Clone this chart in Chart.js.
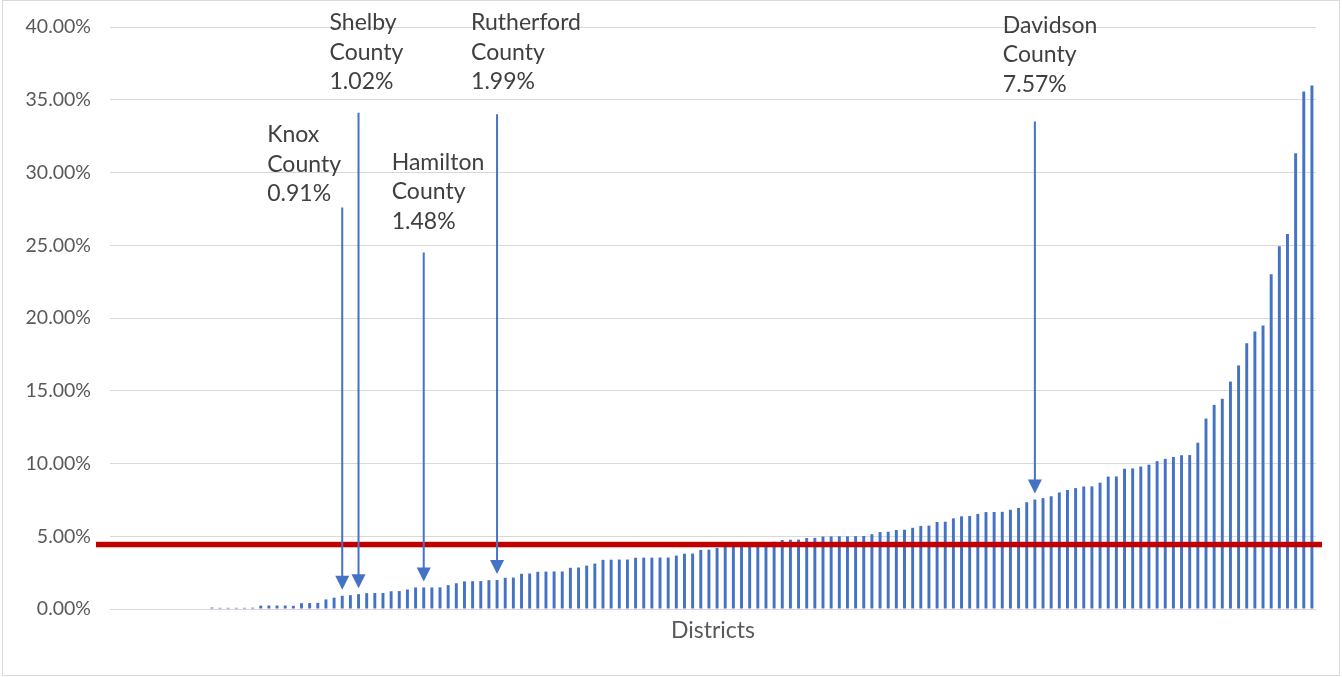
<!DOCTYPE html>
<html>
<head>
<meta charset="utf-8">
<script src="https://cdn.jsdelivr.net/npm/chart.js@4.4.1/dist/chart.umd.min.js"></script>
<style>
  html, body { margin: 0; padding: 0; background: #fff; }
  canvas { display: block; }
</style>
</head>
<body>
<canvas id="myChart" width="1342" height="677"></canvas>
<script>
// districts with no share (drawn as empty slots on the left)
const zeroDistricts = [0, 0, 0, 0, 0, 0, 0, 0, 0, 0, 0, 0];

// share per district in %, sorted ascending
const shares = [
    0.10, 0.08, 0.08, 0.08, 0.08, 0.09,
    0.23, 0.24, 0.24, 0.24, 0.22,
    0.40, 0.41, 0.42, 0.66, 0.78, 0.91, 0.95, 1.02,
    1.09, 1.10, 1.10, 1.22, 1.23, 1.34,
    1.48, 1.48, 1.48, 1.49, 1.64, 1.77,
    1.90, 1.91, 1.92, 1.98, 1.99, 2.14, 2.16,
    2.42, 2.44, 2.56, 2.57, 2.58, 2.58, 2.83, 2.85, 2.98, 3.12,
    3.38, 3.39, 3.40, 3.40, 3.52, 3.53, 3.53, 3.54, 3.54,
    3.67, 3.80, 3.81, 4.06, 4.08,
    4.20, 4.26, 4.30, 4.36, 4.42, 4.48, 4.55, 4.62,
    4.74, 4.76, 4.77, 4.88, 4.89,
    4.98, 4.99, 5.00, 5.00, 5.01, 5.02, 5.14, 5.29, 5.31, 5.43, 5.45,
    5.58, 5.71, 5.73, 5.98, 6.00, 6.23, 6.37, 6.39, 6.53,
    6.66, 6.67, 6.68, 6.82, 6.95, 7.34, 7.52, 7.62, 7.75,
    8.01, 8.18, 8.31, 8.42, 8.43, 8.68, 9.10, 9.11, 9.64, 9.66,
    9.79, 9.92, 10.16, 10.32, 10.45, 10.57, 10.58, 11.43,
    13.09, 14.03, 14.45, 15.63, 16.74, 18.26, 19.07, 19.49,
    23.01, 24.93, 25.77, 31.33, 35.56, 35.98
];

const values = zeroDistricts.concat(shares);
const districts = values.map((_, i) => 'District ' + (i + 1));

// statewide benchmark (red line), in %
const benchmark = 4.43;

// y axis
const yMin = 0;
const yMax = 40;
const yStep = 5;

// labelled counties: name, share label, district slot
const calloutNames = ['Knox', 'Shelby', 'Hamilton', 'Rutherford', 'Davidson'];
const calloutShares = ['0.91%', '1.02%', '1.48%', '1.99%', '7.57%'];
const calloutIndex = [28, 30, 38, 47, 113];

// where each callout text starts and its arrow starts (in axis %), text offset in px
const calloutLayout = [
    { textAt: 32.6, arrowFrom: 27.6, dx: -75 },
    { textAt: 40.3, arrowFrom: 34.1, dx: -29 },
    { textAt: 30.7, arrowFrom: 24.5, dx: -32 },
    { textAt: 40.3, arrowFrom: 34.0, dx: -26 },
    { textAt: 40.1, arrowFrom: 33.5, dx: -32 }
];

const blue = '#4472C4';
const fontFamily = 'Lato, "Noto Sans", sans-serif';

const frame = {
    id: 'frame',
    beforeDraw(chart) {
        const ctx = chart.ctx;
        ctx.save();
        ctx.fillStyle = '#fff';
        ctx.fillRect(0, 0, chart.width, chart.height);
        ctx.strokeStyle = '#d9d9d9';
        ctx.lineWidth = 1;
        ctx.strokeRect(2.5, 0.5, chart.width - 5, chart.height - 2);
        ctx.restore();
    }
};

const benchmarkLine = {
    id: 'benchmarkLine',
    afterDatasetsDraw(chart) {
        const ctx = chart.ctx;
        const y = chart.scales.y.getPixelForValue(benchmark);
        const area = chart.chartArea;
        ctx.save();
        ctx.fillStyle = '#C00000';
        ctx.fillRect(area.left - 14, y - 2.75, area.right - area.left + 20, 5.5);
        ctx.restore();
    }
};

const callouts = {
    id: 'callouts',
    afterDraw(chart) {
        const ctx = chart.ctx;
        const xs = chart.scales.x;
        const ys = chart.scales.y;
        ctx.save();
        for (let i = 0; i < calloutNames.length; i++) {
            const lay = calloutLayout[i];
            const x = xs.getPixelForValue(calloutIndex[i]);
            const barTop = ys.getPixelForValue(values[calloutIndex[i]]);
            const tip = barTop - 6;
            const from = ys.getPixelForValue(lay.arrowFrom);

            ctx.strokeStyle = blue;
            ctx.lineWidth = 2;
            ctx.beginPath();
            ctx.moveTo(x, from);
            ctx.lineTo(x, tip - 12);
            ctx.stroke();
            ctx.fillStyle = blue;
            ctx.beginPath();
            ctx.moveTo(x - 7, tip - 14);
            ctx.lineTo(x + 7, tip - 14);
            ctx.lineTo(x, tip);
            ctx.closePath();
            ctx.fill();

            ctx.fillStyle = '#404040';
            ctx.font = '23px ' + fontFamily;
            ctx.textBaseline = 'middle';
            ctx.textAlign = 'left';
            const ty = ys.getPixelForValue(lay.textAt);
            const lines = [calloutNames[i], 'County', calloutShares[i]];
            lines.forEach((t, k) => ctx.fillText(t, x + lay.dx, ty + k * 29.5));
        }
        ctx.restore();
    }
};

window.onload = () => {
    const ctx = document.getElementById('myChart');
    window.chart = new Chart(ctx, {
        type: 'bar',
        data: {
            labels: districts,
            datasets: [
                {
                    label: 'share',
                    data: values,
                    backgroundColor: blue,
                    borderWidth: 0,
                    categoryPercentage: 1,
                    barPercentage: 0.36
                }
            ]
        },
        options: {
            responsive: false,
            animation: false,
            layout: {
                padding: { top: 27, right: 26, left: 0, bottom: 0 }
            },
            plugins: {
                legend: { display: false },
                tooltip: { enabled: false }
            },
            scales: {
                x: {
                    grid: { display: false },
                    border: { display: false },
                    ticks: { display: false },
                    title: {
                        display: true,
                        text: 'Districts',
                        color: '#595959',
                        font: { family: fontFamily, size: 23 },
                        padding: { top: 0, bottom: 33 }
                    },
                    afterFit: (scale) => { scale.height = 68; }
                },
                y: {
                    min: yMin,
                    max: yMax,
                    ticks: {
                        stepSize: yStep,
                        padding: 4,
                        color: '#595959',
                        font: { family: fontFamily, size: 19.5 },
                        callback: (v) => v.toFixed(2) + '%'
                    },
                    grid: {
                        color: '#d9d9d9',
                        drawTicks: true,
                        tickLength: 15,
                        tickColor: 'rgba(0,0,0,0)'
                    },
                    border: { display: false },
                    afterFit: (scale) => { scale.width = 110; }
                }
            }
        },
        plugins: [frame, benchmarkLine, callouts]
    });
};
</script>
</body>
</html>
